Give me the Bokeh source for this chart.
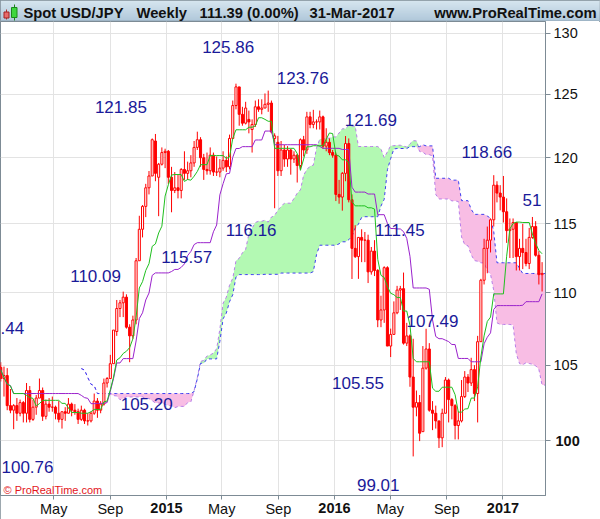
import numpy as np
import pandas as pd
from bokeh.plotting import figure
from bokeh.layouts import column
from bokeh.models import FixedTicker, Label, Range1d, ColumnDataSource, DatetimeAxis, LogAxis
from bokeh.core.properties import value
from bokeh.embed import file_html
from bokeh.resources import INLINE

# ---------------- weekly USD/JPY candles (week starting Monday) ----------------
open_2013 = [105.00]
high_2013 = [105.44]
low_2013 = [104.10]
close_2013 = [104.85]

open_2014 = [104.85,104.1,104.3,102.3,102.0,102.3,101.8,102.5,101.8,103.3,101.4,102.2,102.8,103.3,101.6,102.4,102.2,102.2,101.8,101.4,101.9,101.8,102.4,102.0,101.9,101.4,102.0,101.3,101.3,101.8,102.6,102.0,102.4,103.8,104.1,105.1,107.3,108.9,109.3,109.7,107.6,107.0,108.1,112.3,114.6,116.3,117.7,118.6,121.3,118.5,119.5,120.4]
high_2014 = [105.2,104.9,104.8,103.4,102.4,102.8,102.7,102.6,103.8,103.6,102.7,103.0,104.1,103.5,102.7,102.8,102.9,102.3,102.6,101.9,102.2,102.8,102.5,102.4,102.1,102.3,102.1,101.8,101.9,103.1,102.8,102.6,104.1,104.2,105.7,107.4,109.5,109.5,110.09,109.9,107.8,108.4,112.5,115.6,116.4,118.0,118.98,121.5,121.85,119.6,120.8,120.7]
low_2014 = [103.9,102.9,102.0,101.8,100.76,101.3,101.6,101.2,101.2,101.2,101.3,101.7,102.8,101.3,101.4,101.9,101.9,101.4,101.2,100.8,101.3,101.8,101.6,101.7,101.1,101.3,101.1,101.0,101.2,101.7,101.5,101.8,102.3,103.5,104.1,105.1,107.0,108.3,108.3,107.5,105.2,106.8,107.8,112.3,114.0,115.5,117.2,118.6,118.2,115.57,119.4,119.2]
close_2014 = [104.1,104.3,102.3,102.0,102.3,101.8,102.5,101.8,103.3,101.4,102.2,102.8,103.3,101.6,102.4,102.2,102.2,101.8,101.4,101.9,101.8,102.4,102.0,101.9,101.4,102.0,101.3,101.3,101.8,102.6,102.0,102.4,103.8,104.1,105.1,107.4,108.9,109.3,109.7,107.6,107.0,108.1,112.3,114.6,116.3,117.7,118.6,121.4,118.8,119.5,120.4,120.5]

open_2015 = [120.5,118.5,117.5,117.7,117.5,119.1,118.8,119.0,119.6,120.8,121.4,120.0,119.1,119.0,120.2,118.9,118.9,119.2,119.8,119.3,121.5,124.1,125.6,123.4,122.7,123.0,122.2,122.6,124.0,123.8,123.9,124.2,124.3,121.5,121.2,119.0,120.6,119.9,120.6,119.9,120.2,119.4,121.4,120.6,123.2,122.6,122.8,122.8,123.2,120.9,121.2,120.4]
high_2015 = [120.6,119.3,118.9,118.7,119.2,120.5,119.7,120.2,121.3,122.03,121.6,120.3,120.4,120.8,120.4,120.1,119.9,120.5,120.1,121.8,124.5,125.86,125.6,124.0,124.4,123.7,123.0,124.5,124.6,124.6,125.07,125.3,124.5,121.9,121.7,121.3,121.0,120.9,120.7,120.5,120.3,121.5,121.7,123.6,123.6,123.76,123.0,123.7,123.3,122.3,121.5,120.6]
low_2015 = [118.0,115.86,117.3,116.9,116.9,118.3,118.3,118.5,119.3,120.6,119.3,118.3,118.7,118.7,118.6,118.6,118.5,119.0,118.9,119.1,121.5,123.8,122.5,122.5,122.6,121.9,120.4,122.4,123.6,123.4,123.9,123.6,121.9,116.16,118.6,118.6,119.3,119.3,118.7,119.6,118.1,119.1,120.1,120.3,122.3,122.3,122.2,122.2,120.7,120.5,120.2,120.0]
close_2015 = [118.5,117.5,117.7,117.5,119.1,118.8,119.0,119.6,120.8,121.4,120.0,119.1,119.0,120.2,118.9,118.9,119.2,119.8,119.3,121.5,124.1,125.6,123.4,122.7,123.9,122.8,122.6,124.0,123.8,123.9,124.2,124.3,122.0,121.7,119.0,120.6,119.9,120.6,119.9,120.2,119.4,121.4,120.6,123.2,122.6,122.8,122.8,123.2,120.9,121.2,120.4,120.2]

open_2016 = [120.2,117.2,117.0,118.8,121.1,116.8,113.2,112.6,114.0,113.8,113.8,111.5,113.0,111.6,108.1,108.8,111.8,106.3,107.1,108.6,110.2,110.3,106.5,107.0,104.2,102.2,102.5,100.6,104.8,106.1,102.0,101.8,101.3,100.2,101.8,104.0,102.7,102.3,101.0,101.3,102.9,104.2,103.8,104.7,103.1,106.6,110.9,113.2,113.8,115.3,117.9,117.3]
high_2016 = [120.4,118.3,118.9,121.69,121.5,117.2,114.9,114.0,114.6,114.4,114.2,113.3,113.8,111.7,109.8,111.9,111.9,107.5,109.4,110.5,110.5,111.45,107.9,107.1,106.8,103.3,103.0,106.3,107.49,106.5,102.6,102.3,101.3,102.1,104.2,104.1,102.8,102.4,101.9,104.0,104.6,104.4,105.5,105.0,107.0,111.0,113.9,114.8,115.4,118.66,118.2,117.9]
low_2016 = [116.7,116.5,115.98,118.2,116.6,110.99,112.5,111.0,112.2,112.2,110.7,111.3,111.2,107.6,107.6,107.9,106.3,105.55,107.1,108.5,108.8,106.4,106.3,103.55,99.01,101.6,99.99,100.6,104.7,101.9,100.7,100.8,99.55,99.6,101.8,101.2,101.4,100.1,100.1,101.2,102.8,103.2,103.6,102.6,101.2,106.6,110.6,111.4,112.9,114.8,116.6,116.0]
close_2016 = [117.2,117.0,118.8,121.1,116.8,113.2,112.6,114.0,113.8,113.8,111.5,113.0,111.6,108.1,108.8,111.8,106.3,107.1,108.6,110.2,110.3,106.5,107.0,104.2,102.2,102.5,100.5,104.8,106.1,102.0,101.8,101.3,100.2,101.8,104.0,102.7,102.3,101.0,101.3,102.9,104.2,103.8,104.7,103.1,106.6,110.9,113.2,113.8,115.3,117.9,117.3,117.0]

open_2017 = [117.0,115.9,114.5,114.6,115.1,112.6,113.2,112.9,112.1,114.0,114.8,112.7,111.3]
high_2017 = [118.6,116.9,115.4,115.4,115.1,113.9,115.0,113.9,114.7,115.51,115.2,113.0,112.2]
low_2017 = [115.1,113.6,112.5,112.5,111.6,111.6,111.7,111.9,111.7,113.9,112.6,110.6,110.1]
close_2017 = [115.9,114.5,114.6,115.1,112.6,113.2,112.9,112.1,114.0,114.8,112.7,111.3,111.39]

# ---------------- pivot labels shown on the chart ----------------
label_texts = [".44", "100.76", "110.09", "121.85", "105.20", "115.57", "125.86", "116.16",
               "123.76", "105.55", "121.69", "99.01", "111.45", "107.49", "118.66", "51"]
label_dates = ["2014-01-31", "2014-03-05", "2014-07-31", "2014-09-24", "2014-11-19", "2015-02-14",
               "2015-05-15", "2015-07-04", "2015-10-24", "2016-02-21", "2016-03-20", "2016-04-05",
               "2016-05-22", "2016-08-01", "2016-11-27", "2017-03-05"]
label_levels = [107.51, 98.36, 111.17, 123.96, 102.44, 112.54, 128.84, 114.52,
                126.30, 103.83, 122.92, 97.23, 114.52, 108.0, 120.42, 116.75]

# ---------------- axis ticks ----------------
x_tick_dates = ["2014-05-01", "2014-09-01", "2015-01-01", "2015-05-01", "2015-09-01",
                "2016-01-01", "2016-05-01", "2016-09-01", "2017-01-01"]
x_tick_labels = ["May", "Sep", "2015", "May", "Sep", "2016", "May", "Sep", "2017"]
y_ticks = [100, 105, 110, 115, 120, 125, 130]

# ---------------- assemble ----------------
opens = open_2013 + open_2014 + open_2015 + open_2016 + open_2017
highs = high_2013 + high_2014 + high_2015 + high_2016 + high_2017
lows = low_2013 + low_2014 + low_2015 + low_2016 + low_2017
closes = close_2013 + close_2014 + close_2015 + close_2016 + close_2017
dates = pd.date_range("2013-12-30", periods=len(opens), freq="W-MON")

df = pd.DataFrame({"open": opens, "high": highs, "low": lows, "close": closes}, index=dates)

# Ichimoku lines (standard 9/26/52 definition, spans displayed 26 weeks ahead)
def midpoint(n):
    return (df["high"].rolling(n, min_periods=1).max() + df["low"].rolling(n, min_periods=1).min()) / 2.0

tenkan = midpoint(9)
kijun = midpoint(26)
span_a = ((tenkan + kijun) / 2.0).values
span_b = midpoint(52).values
span_x = dates + pd.Timedelta(weeks=26)
keep = span_x <= dates[-1] + pd.Timedelta(weeks=1)
span_x = span_x[keep]
span_a = span_a[keep]
span_b = span_b[keep]

RED = "#ff0000"
up = df["close"] >= df["open"]
candles = ColumnDataSource(dict(
    x=dates, high=df["high"], low=df["low"],
    top=np.maximum(df["open"], df["close"]), bottom=np.minimum(df["open"], df["close"]),
    fill=np.where(up, "#ffffff", RED),
))

FONT = "Liberation Sans"
GRAY = "#7d8b95"
W = 600
TITLE_H = 21
MAIN_H = 498
RIGHT_B = 55
BOTTOM_B = 24
TICK_FS = 14.5

x_start = pd.Timestamp("2014-01-05 10:00")
x_end = pd.Timestamp("2017-04-03 10:00")
y_lo, y_hi = 96.55, 131.0

p = figure(width=W, height=MAIN_H, x_axis_type="datetime", y_axis_type="log",
           x_range=Range1d(x_start, x_end), y_range=Range1d(y_lo, y_hi),
           y_axis_location="right", toolbar_location=None, output_backend="svg",
           min_border_left=0, min_border_right=RIGHT_B, min_border_top=0,
           min_border_bottom=BOTTOM_B)
p.frame_align = False
p.background_fill_color = "white"
p.border_fill_color = "white"
p.outline_line_color = GRAY

# Ichimoku cloud
p.varea(x=span_x, y1=span_b, y2=np.maximum(span_a, span_b), fill_color="#b3f9b3", fill_alpha=1.0)
p.varea(x=span_x, y1=np.minimum(span_a, span_b), y2=span_b, fill_color="#f8bde4", fill_alpha=1.0)
p.line(span_x, span_a, line_color="#b77ee8", line_width=1, line_dash="3 3")
p.line(span_x, span_b, line_color="#3f3ff0", line_width=1, line_dash="3 3")

# candles
p.segment(x0="x", y0="low", x1="x", y1="high", source=candles, line_color=RED, line_width=1)
p.vbar(x="x", top="top", bottom="bottom", width=4.5 * 24 * 3600 * 1000, source=candles,
       fill_color="fill", line_color=RED, line_width=1)

# tenkan / kijun
p.line(dates, kijun.values, line_color="#9a22cc", line_width=1)
p.line(dates, tenkan.values, line_color="#1fbf1f", line_width=1)

# pivot labels
lab_src = ColumnDataSource(dict(x=pd.to_datetime(label_dates), y=label_levels, text=label_texts))
p.text(x="x", y="y", text="text", source=lab_src, text_font=value(FONT), text_font_size="17px",
       text_align="center", text_baseline="middle", text_color="#1a1a99")

# ---- axes ----
tick_ms = [int(pd.Timestamp(d).value // 10**6) for d in x_tick_dates]

def style_axis(ax, bold, tick_out, standoff):
    ax.major_label_text_font = FONT
    ax.major_label_text_font_size = "%spx" % TICK_FS
    ax.major_label_text_color = "#111111"
    ax.major_label_text_font_style = "bold" if bold else "normal"
    ax.major_label_standoff = standoff
    ax.major_tick_in = 0
    ax.major_tick_out = tick_out
    ax.minor_tick_line_color = None
    ax.major_tick_line_color = GRAY if tick_out else None

# month labels (normal) on the regular axis
xa = p.xaxis[0]
xa.ticker = FixedTicker(ticks=tick_ms)
xa.major_label_overrides = {t: ("" if lab.isdigit() else lab) for t, lab in zip(tick_ms, x_tick_labels)}
style_axis(xa, False, 4, 1)
xa.axis_line_color = GRAY

# year labels (bold) on a second axis, pulled up onto the same row
year_ticks = [t for t, lab in zip(tick_ms, x_tick_labels) if lab.isdigit()]
xb = DatetimeAxis(ticker=FixedTicker(ticks=year_ticks),
                  major_label_overrides={t: lab for t, lab in zip(tick_ms, x_tick_labels) if lab.isdigit()})
style_axis(xb, True, 0, -17)
xb.axis_line_color = None
p.add_layout(xb, "below")

ya = p.yaxis[0]
ya.ticker = FixedTicker(ticks=y_ticks)
ya.major_label_overrides = {t: ("" if t == 100 else str(t)) for t in y_ticks}
style_axis(ya, False, 5, 3)
ya.axis_line_color = GRAY

yb = LogAxis(ticker=FixedTicker(ticks=[100]), major_label_overrides={100: "100"})
style_axis(yb, True, 0, -25)
yb.axis_line_color = None
p.add_layout(yb, "right")

p.xgrid.grid_line_color = "#e3e3e3"
p.ygrid.grid_line_color = "#e3e3e3"
p.xgrid.ticker = FixedTicker(ticks=tick_ms)
p.ygrid.ticker = FixedTicker(ticks=y_ticks)

p.add_layout(Label(x=3, y=6, x_units="screen", y_units="screen", text="\u00a9 ProRealTime.com",
                   text_font=FONT, text_font_size="11px", text_color="#e3161c",
                   text_baseline="middle"))

# ---------------- title bar ----------------
tb = figure(width=W, height=TITLE_H, x_range=Range1d(0, W), y_range=Range1d(0, TITLE_H),
            x_axis_location=None, y_axis_location=None, toolbar_location=None,
            output_backend="svg", min_border=0)
tb.frame_align = False
tb.grid.visible = False
tb.outline_line_color = GRAY
tb.background_fill_color = "#c4d8e6"
top_c = np.array([0xdc, 0xe9, 0xf2])
bot_c = np.array([0xa9, 0xc3, 0xd6])
for i in range(TITLE_H):
    f = i / (TITLE_H - 1)
    c = (top_c * (1 - f) + bot_c * f).astype(int)
    tb.quad(left=0, right=W, bottom=TITLE_H - i - 1, top=TITLE_H - i,
            fill_color="#%02x%02x%02x" % tuple(c), line_color=None)
# candle icon
tb.segment(x0=[6, 14], y0=[2, 1], x1=[6, 14], y1=[12, 17], line_color=["#b03030", "#208020"])
tb.quad(left=[3.5, 11], right=[8.5, 16.5], bottom=[3.5, 4], top=[9.5, 14],
        fill_color=["#e86a6a", "#3ed63e"], line_color=["#a02020", "#1a8a1a"])

for xx, txt, al in [(23, "Spot USD/JPY", "left"), (136, "Weekly", "left"),
                    (199, "111.39 (0.00%)", "left"), (309, "31-Mar-2017", "left"),
                    (596, "www.ProRealTime.com", "right")]:
    tb.add_layout(Label(x=xx, y=9, text=txt, text_align=al, text_baseline="middle",
                        text_font=FONT, text_font_size="14.75px", text_font_style="bold",
                        text_color="#111111"))

layout = column(tb, p, spacing=0,
                styles={"outline": "1px solid #7d8b95", "outline-offset": "-1px"})
open("out.html", "w").write(file_html(layout, INLINE))
